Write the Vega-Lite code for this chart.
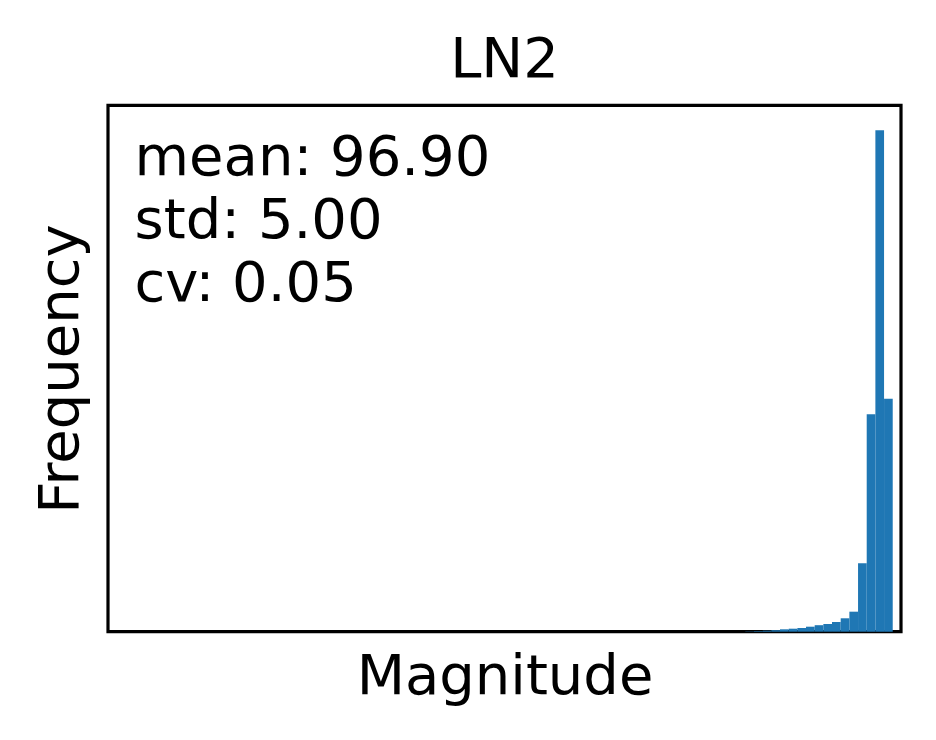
{
  "$schema": "https://vega.github.io/schema/vega-lite/v6.json",
  "width": 793,
  "height": 526.4,
  "autosize": {"type": "none"},
  "padding": {"left": 108, "top": 105.3, "right": 35, "bottom": 108.3},
  "background": "white",
  "title": {
    "text": "LN2",
    "font": "DejaVu Sans",
    "fontSize": 56,
    "fontWeight": "normal",
    "color": "black",
    "anchor": "middle",
    "frame": "group",
    "offset": 16
  },
  "config": {
    "view": {"stroke": "black", "strokeWidth": 3.2},
    "axis": {
      "domain": false,
      "ticks": false,
      "labels": false,
      "grid": false,
      "titleFont": "DejaVu Sans",
      "titleFontSize": 56,
      "titleFontWeight": "normal",
      "titleColor": "black"
    }
  },
  "layer": [
    {
      "data": {
        "values": [
          {"bin_start": 80.85, "bin_end": 81.95, "count": 3},
          {"bin_start": 81.95, "bin_end": 83.05, "count": 6},
          {"bin_start": 83.05, "bin_end": 84.15, "count": 10},
          {"bin_start": 84.15, "bin_end": 85.25, "count": 15},
          {"bin_start": 85.25, "bin_end": 86.35, "count": 24},
          {"bin_start": 86.35, "bin_end": 87.45, "count": 30},
          {"bin_start": 87.45, "bin_end": 88.55, "count": 37},
          {"bin_start": 88.55, "bin_end": 89.65, "count": 50},
          {"bin_start": 89.65, "bin_end": 90.75, "count": 65},
          {"bin_start": 90.75, "bin_end": 91.85, "count": 77},
          {"bin_start": 91.85, "bin_end": 92.95, "count": 97},
          {"bin_start": 92.95, "bin_end": 94.05, "count": 134},
          {"bin_start": 94.05, "bin_end": 95.15, "count": 200},
          {"bin_start": 95.15, "bin_end": 96.25, "count": 684},
          {"bin_start": 96.25, "bin_end": 97.35, "count": 2174},
          {"bin_start": 97.35, "bin_end": 98.45, "count": 5010},
          {"bin_start": 98.45, "bin_end": 99.55, "count": 2327}
        ]
      },
      "mark": {"type": "rect", "color": "#1f77b4"},
      "encoding": {
        "x": {"field": "bin_start", "type": "quantitative", "scale": {"domain": [0, 100.6], "nice": false, "zero": false}, "axis": {"title": "Magnitude", "titlePadding": 18}},
        "x2": {"field": "bin_end"},
        "y": {"field": "count", "type": "quantitative", "scale": {"domain": [0, 5260], "nice": false}, "axis": {"title": "Frequency", "titlePadding": 19}}
      }
    },
    {
      "data": {
        "values": [
          {"bin_start": 3.37, "count": 4565, "label": ["mean: 96.90", "std: 5.00", "cv: 0.05"]}
        ]
      },
      "mark": {"type": "text", "font": "DejaVu Sans", "fontSize": 56, "align": "left", "baseline": "alphabetic", "lineHeight": 63, "color": "black"},
      "encoding": {
        "x": {"field": "bin_start", "type": "quantitative", "axis": {"title": "Magnitude", "titlePadding": 18}},
        "y": {"field": "count", "type": "quantitative", "axis": {"title": "Frequency", "titlePadding": 19}},
        "text": {"field": "label"}
      }
    }
  ]
}
